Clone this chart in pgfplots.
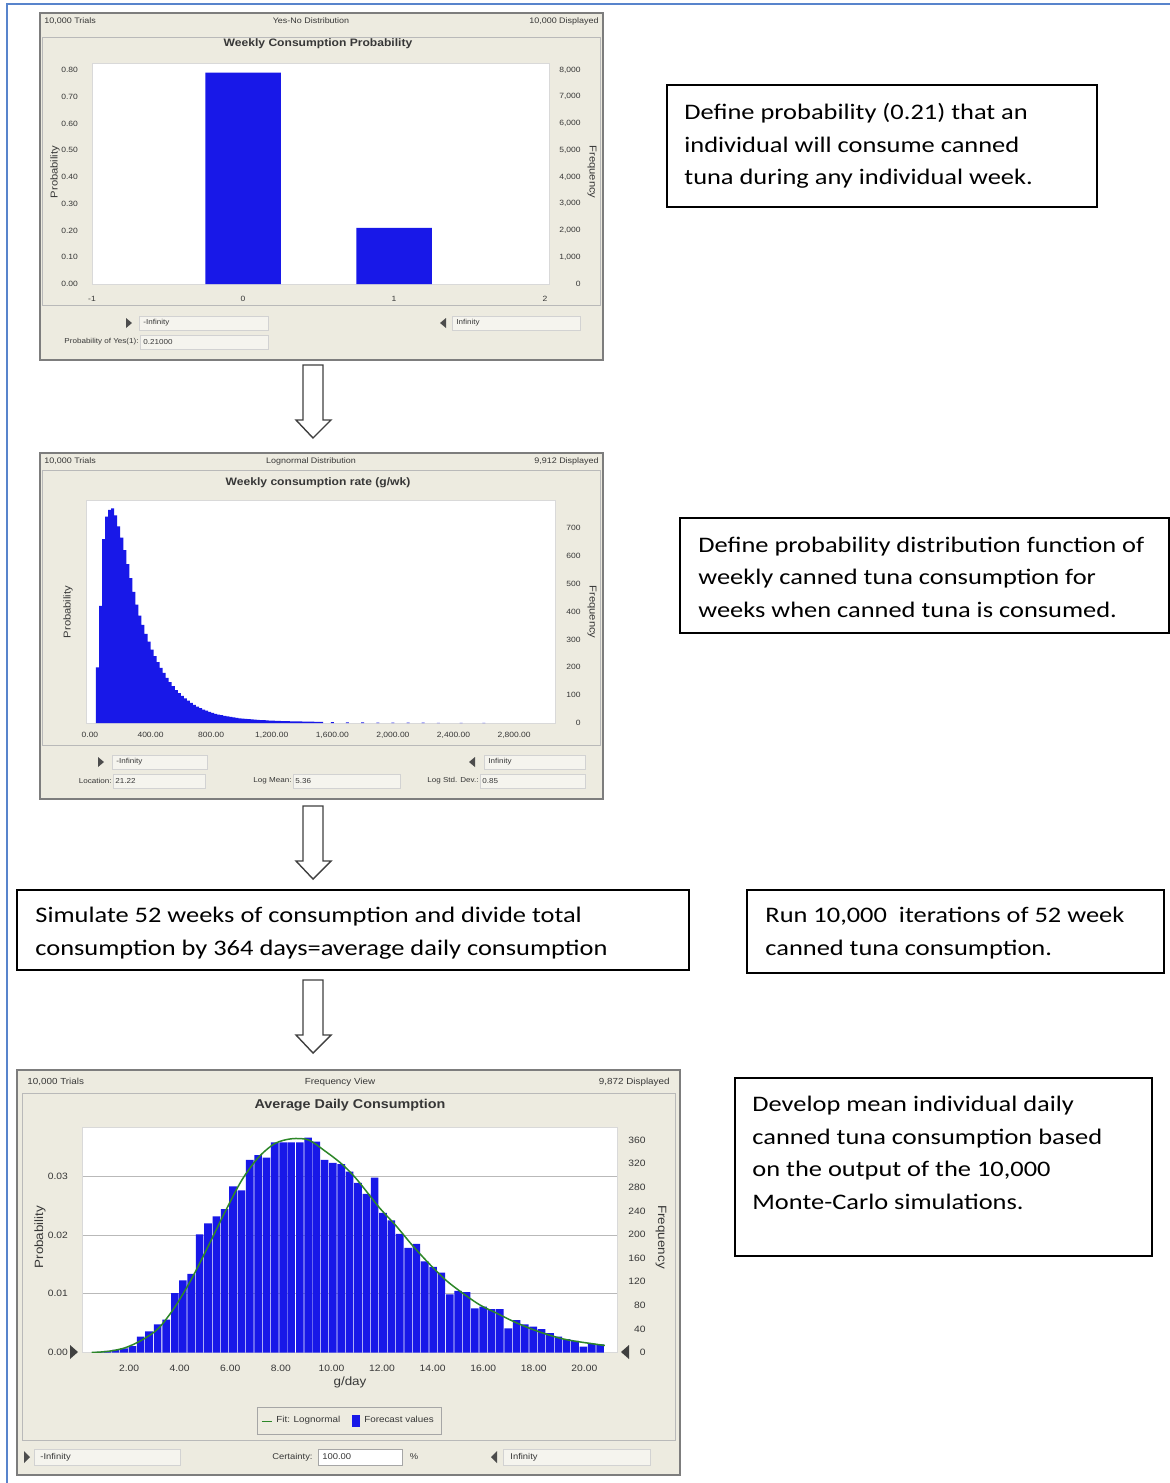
\documentclass[border=0pt]{standalone}
\usepackage{pgfplots}
\pgfplotsset{compat=1.18}
\usepackage{fontspec}
\setmainfont[FakeStretch=1.12]{Liberation Sans}
\newfontfamily\boxfont[FakeStretch=1.19]{Carlito}

\definecolor{panel}{RGB}{237,235,224}
\definecolor{field}{RGB}{245,244,238}
\definecolor{cbblue}{RGB}{24,24,232}
\definecolor{cbgreen}{RGB}{45,135,40}
\definecolor{pageblue}{RGB}{88,132,204}
\definecolor{cbtext}{RGB}{55,55,55}
\definecolor{framegray}{RGB}{125,125,125}

\newcommand\sz[1]{\fontsize{#1}{#1}\selectfont}
\newcommand\bx{\boxfont\fontsize{11.1}{13}\selectfont}

\tikzset{
  panel/.style={draw=framegray, line width=0.9pt, fill=panel},
  inner/.style={draw=gray!55, line width=0.5pt},
  fieldbox/.style={draw=gray!35, line width=0.3pt, fill=field},
  txtbox/.style={draw=black, line width=0.9pt},
  flow/.style={draw=black!75, line width=0.7pt, fill=white},
  lab/.style={text=cbtext, inner sep=0pt},
}

\pgfplotsset{
  cb/.style={
    scale only axis, anchor=south west,
    axis background/.style={fill=white},
    axis line style={draw=gray!30},
    tick style={draw=none},
    tick pos=left,
    scaled ticks=false,
    /pgf/number format/assume math mode=true,
    ticklabel style={text=cbtext},
  },
  cbright/.style={
    scale only axis, anchor=south west,
    axis x line=none, axis y line*=right,
    axis line style={draw=none},
    tick style={draw=none},
    scaled ticks=false,
    /pgf/number format/assume math mode=true,
    ticklabel style={text=cbtext},
    yticklabel style={anchor=east, inner sep=0pt},
    xmin=0, xmax=1,
  },
  two dec/.style={/pgf/number format/fixed, /pgf/number format/fixed zerofill,
    /pgf/number format/precision=2, /pgf/number format/1000 sep={,}},
  no dec/.style={/pgf/number format/fixed, /pgf/number format/precision=0,
    /pgf/number format/1000 sep={,}},
}

\begin{document}
\begin{tikzpicture}
\begin{scope}[x=0.5pt,y=-0.5pt]
\path[use as bounding box] (0,0) rectangle (1170,1483);
\fill[white] (0,0) rectangle (1170,1483);
\draw[pageblue, line width=0.8pt] (7,1483) -- (7,4) -- (1170,4);

% ---------- panel 1: yes-no distribution
\draw[panel] (40,13) rectangle (603,360);
\draw[inner] (42,37) rectangle (600,305);
\node[lab, anchor=west, font=\sz{4}] at (44,21) {10,000 Trials};
\node[lab, font=\sz{4}] at (311,21) {Yes-No Distribution};
\node[lab, anchor=east, font=\sz{4}] at (599,21) {10,000 Displayed};
\node[lab, font=\bfseries\sz{5.4}] at (318,44) {Weekly Consumption Probability};
\node[lab, rotate=90, font=\sz{5}] at (55,172) {Probability};
\node[lab, rotate=-90, font=\sz{5}] at (592,172) {Frequency};
\fill[black!70] (126,318) -- (132,323) -- (126,328) -- cycle;
\draw[fieldbox] (139,316) rectangle (268,330);
\node[lab, anchor=west, font=\sz{3.6}] at (143,323) {-Infinity};
\fill[black!70] (446,318) -- (440,323) -- (446,328) -- cycle;
\draw[fieldbox] (452,316) rectangle (580,330);
\node[lab, anchor=west, font=\sz{3.6}] at (456,323) {Infinity};
\draw[fieldbox] (140,335) rectangle (268,349);
\node[lab, anchor=east, font=\sz{3.6}] at (139,342) {Probability of Yes(1):};
\node[lab, anchor=west, font=\sz{3.6}] at (143,342) {0.21000};
\coordinate (A1) at (92,284);

% ---------- panel 2: lognormal distribution
\draw[panel] (40,453) rectangle (603,799);
\draw[inner] (42,470) rectangle (600,745);
\node[lab, anchor=west, font=\sz{4}] at (44,461) {10,000 Trials};
\node[lab, font=\sz{4}] at (311,461) {Lognormal Distribution};
\node[lab, anchor=east, font=\sz{4}] at (599,461) {9,912 Displayed};
\node[lab, font=\bfseries\sz{5.4}] at (318,483) {Weekly consumption rate (g/wk)};
\node[lab, rotate=90, font=\sz{5}] at (68,612) {Probability};
\node[lab, rotate=-90, font=\sz{5}] at (592,612) {Frequency};
\fill[black!70] (98,757) -- (104,762) -- (98,767) -- cycle;
\draw[fieldbox] (112,755) rectangle (207,769);
\node[lab, anchor=west, font=\sz{3.6}] at (116,762) {-Infinity};
\fill[black!70] (475,757) -- (469,762) -- (475,767) -- cycle;
\draw[fieldbox] (484,755) rectangle (585,769);
\node[lab, anchor=west, font=\sz{3.6}] at (488,762) {Infinity};
\draw[fieldbox] (113,774) rectangle (205,788);
\node[lab, anchor=east, font=\sz{3.6}] at (112,781) {Location:};
\node[lab, anchor=west, font=\sz{3.6}] at (115,781) {21.22};
\draw[fieldbox] (293,774) rectangle (400,788);
\node[lab, anchor=east, font=\sz{3.6}] at (292,781) {Log Mean:};
\node[lab, anchor=west, font=\sz{3.6}] at (295,781) {5.36};
\draw[fieldbox] (480,774) rectangle (585,788);
\node[lab, anchor=east, font=\sz{3.6}] at (479,781) {Log Std. Dev.:};
\node[lab, anchor=west, font=\sz{3.6}] at (482,781) {0.85};
\coordinate (A2) at (86,723);

% ---------- panel 3: forecast
\draw[panel] (17,1070) rectangle (680,1475);
\draw[inner] (22,1093) rectangle (675,1440);
\node[lab, anchor=west, font=\sz{4.4}] at (27,1082) {10,000 Trials};
\node[lab, font=\sz{4.4}] at (340,1082) {Frequency View};
\node[lab, anchor=east, font=\sz{4.4}] at (670,1082) {9,872 Displayed};
\node[lab, font=\bfseries\sz{6.4}] at (350,1105) {Average Daily Consumption};
\node[lab, rotate=90, font=\sz{6}] at (40,1237) {Probability};
\node[lab, rotate=-90, font=\sz{6}] at (661,1237) {Frequency};
\node[lab, font=\sz{6}] at (350,1382) {g/day};
\fill[black!75] (70,1345) -- (78,1352) -- (70,1359) -- cycle;
\fill[black!75] (629,1345) -- (621,1352) -- (629,1359) -- cycle;
\fill[black!70] (24,1451) -- (30,1457) -- (24,1463) -- cycle;
\draw[fieldbox] (34,1449) rectangle (180,1465);
\node[lab, anchor=west, font=\sz{4.2}] at (40,1457) {-Infinity};
\node[lab, anchor=east, font=\sz{4.2}] at (313,1457) {Certainty:};
\draw[draw=gray!70, line width=0.4pt, fill=white] (318,1449) rectangle (402,1465);
\node[lab, anchor=west, font=\sz{4.2}] at (322,1457) {100.00};
\node[lab, font=\sz{4.2}] at (414,1457) {\%};
\fill[black!70] (497,1451) -- (491,1457) -- (497,1463) -- cycle;
\draw[fieldbox] (503,1449) rectangle (650,1465);
\node[lab, anchor=west, font=\sz{4.2}] at (510,1457) {Infinity};
\coordinate (A3) at (82,1352.5);

% ---------- flow arrows
\foreach \t in {365,806,980}{
  \draw[flow] (303,\t) -- (323,\t) -- (323,\t+55) -- (331,\t+55) -- (313,\t+73)
    -- (296,\t+55) -- (303,\t+55) -- cycle;
}

% ---------- text boxes
\draw[txtbox] (667,85) rectangle (1097,207);
\node[anchor=base west, inner sep=0, font=\bx] at (684,119.3) {Define probability (0.21) that an};
\node[anchor=base west, inner sep=0, font=\bx] at (684,152) {individual will consume canned};
\node[anchor=base west, inner sep=0, font=\bx] at (684,184.5) {tuna during any individual week.};

\draw[txtbox] (680,518) rectangle (1169,633);
\node[anchor=base west, inner sep=0, font=\bx] at (698,552) {Define probability distribution function of};
\node[anchor=base west, inner sep=0, font=\bx] at (698,584.5) {weekly canned tuna consumption for};
\node[anchor=base west, inner sep=0, font=\bx] at (698,617) {weeks when canned tuna is consumed.};

\draw[txtbox] (17,890) rectangle (689,970);
\node[anchor=base west, inner sep=0, font=\bx] at (35,922.5) {Simulate 52 weeks of consumption and divide total};
\node[anchor=base west, inner sep=0, font=\bx] at (35,955) {consumption by 364 days=average daily consumption};

\draw[txtbox] (747,890) rectangle (1164,973);
\node[anchor=base west, inner sep=0, font=\bx] at (765,922.5) {Run 10,000~ iterations of 52 week};
\node[anchor=base west, inner sep=0, font=\bx] at (765,955) {canned tuna consumption.};

\draw[txtbox] (735,1078) rectangle (1152,1256);
\node[anchor=base west, inner sep=0, font=\bx] at (752,1111.5) {Develop mean individual daily};
\node[anchor=base west, inner sep=0, font=\bx] at (752,1144) {canned tuna consumption based};
\node[anchor=base west, inner sep=0, font=\bx] at (752,1176.5) {on the output of the 10,000};
\node[anchor=base west, inner sep=0, font=\bx] at (752,1209) {Monte-Carlo simulations.};
\end{scope}

% ================= chart 1
\begin{axis}[cb, at={(A1)}, width=228.5pt, height=110.5pt,
  xmin=-1, xmax=2.026, ymin=0, ymax=0.826,
  xtick={-1,0,1,2}, xticklabels={-1,0,1,2},
  ytick={0,0.1,0.2,0.3,0.4,0.5,0.6,0.7,0.8}, two dec,
  ticklabel style={font=\sz{3.8}},
  yticklabel style={xshift=-3.5pt}, xticklabel style={yshift=-2.5pt}]
\addplot[ybar, bar width=0.5, fill=cbblue, draw=none] coordinates {(0,0.79) (1,0.21)};
\end{axis}
\begin{axis}[cbright, at={(A1)}, width=228.5pt, height=110.5pt,
  ymin=0, ymax=8260, ytick={0,1000,2000,3000,4000,5000,6000,7000,8000}, no dec,
  ticklabel style={font=\sz{3.8}}, yticklabel style={xshift=16pt}]
\end{axis}

% ================= chart 2
\begin{axis}[cb, at={(A2)}, width=234.5pt, height=111.5pt,
  xmin=-26, xmax=3070, ymin=0, ymax=800,
  xtick={0,400,800,1200,1600,2000,2400,2800}, ytick=\empty, two dec,
  ticklabel style={font=\sz{3.8}}, xticklabel style={yshift=-1.2pt}]
\addplot[ybar, bar width=20, fill=cbblue, draw=none] coordinates {
 (50,200) (70,420) (90,660) (110,740) (130,765) (150,770) (170,745) (190,705)
 (210,665) (230,620) (250,570) (270,520) (290,470) (310,425) (330,385) (350,352)
 (370,320) (390,292) (410,263) (430,240) (450,218) (470,198) (490,180) (510,162)
 (530,147) (550,132) (570,118) (590,107) (610,97) (630,88) (650,80) (670,72)
 (690,65) (710,59) (730,53) (750,48) (770,44) (790,40) (810,36) (830,33)
 (850,30) (870,28) (890,26) (910,24) (930,22) (950,20) (970,18.5) (990,17)
 (1010,16) (1030,15) (1050,14) (1070,13) (1090,12) (1110,11) (1130,10.5) (1150,10)
 (1170,9.5) (1190,9) (1210,8.5) (1230,8) (1250,7.5) (1270,7) (1290,6.8) (1310,6.5)
 (1330,6.2) (1350,6) (1370,5.7) (1390,5.5) (1410,5.3) (1430,5) (1450,4.8) (1470,4.6)
 (1490,4.4) (1510,4.2) (1530,4) (1600,3) (1700,2.5) (1800,2) (1900,1.5) (2000,1.5)
 (2100,1) (2200,1) (2300,0.8) (2450,0.6) (2600,0.5)};
\end{axis}
\begin{axis}[cbright, at={(A2)}, width=234.5pt, height=111.5pt,
  ymin=0, ymax=800, ytick={0,100,200,300,400,500,600,700}, no dec,
  ticklabel style={font=\sz{3.8}}, yticklabel style={xshift=13pt}]
\end{axis}

% ================= chart 3
\begin{axis}[cb, at={(A3)}, width=267.5pt, height=112.75pt,
  xmin=0.14, xmax=21.29, ymin=0, ymax=0.0384,
  xtick={2,4,6,8,10,12,14,16,18,20}, ytick={0,0.01,0.02,0.03}, two dec,
  ymajorgrids, grid style={gray!55, line width=0.5pt},
  ticklabel style={font=\sz{4.6}},
  yticklabel style={xshift=-3.5pt}, xticklabel style={yshift=-2.5pt},
  legend style={at={(0.5,-0.2417)}, anchor=north, legend columns=2,
    draw=gray!70, fill=panel, font=\sz{4.4}, text=cbtext,
    inner xsep=2pt, inner ysep=2.5pt,
    /tikz/every even column/.append style={column sep=4pt}}]
\addplot[ybar, bar width=0.30, fill=cbblue, draw=none, forget plot] coordinates {
 (0.81,0.0001) (1.14,0.0003) (1.47,0.00045) (1.80,0.0007) (2.13,0.0011) (2.46,0.0027)
 (2.79,0.0036) (3.13,0.0048) (3.47,0.0056) (3.81,0.0101) (4.13,0.0123) (4.46,0.0134)
 (4.79,0.0201) (5.12,0.0220) (5.45,0.0232) (5.78,0.0244) (6.11,0.0283) (6.44,0.0276)
 (6.77,0.0328) (7.10,0.0336) (7.43,0.0332) (7.76,0.0358) (8.09,0.0358) (8.41,0.0358)
 (8.75,0.0358) (9.08,0.0366) (9.40,0.0359) (9.73,0.0328) (10.06,0.0323) (10.39,0.0321)
 (10.72,0.0308) (11.05,0.0289) (11.38,0.0270) (11.71,0.0298) (12.04,0.0238) (12.37,0.0225)
 (12.70,0.0202) (13.03,0.0178) (13.36,0.0185) (13.69,0.0155) (14.02,0.0146) (14.35,0.0136)
 (14.68,0.0099) (15.01,0.0105) (15.34,0.0103) (15.67,0.0075) (16.00,0.0078) (16.33,0.0074)
 (16.66,0.0074) (16.99,0.0041) (17.32,0.0055) (17.65,0.0048) (17.98,0.0044) (18.31,0.0040)
 (18.64,0.0033) (18.97,0.0027) (19.30,0.0023) (19.63,0.0020) (19.96,0.0010) (20.29,0.0015)
 (20.62,0.0014)};
\addplot[cbgreen, line width=0.75pt, smooth,
  legend image code/.code={\draw[cbgreen, line width=0.6pt] (0pt,0pt) -- (5pt,0pt);}]
  coordinates {
 (0.52,0) (1.18,0.0002) (1.84,0.0008) (2.50,0.0021) (3.16,0.0041) (3.82,0.0078)
 (4.48,0.0126) (5.14,0.0182) (5.79,0.0239) (6.45,0.0293) (7.11,0.0332) (7.77,0.0356)
 (8.43,0.0364) (9.09,0.0362) (9.75,0.0343) (10.41,0.0321) (11.0,0.0295) (11.89,0.0247)
 (12.55,0.0216) (13.21,0.0182) (13.87,0.0151) (14.53,0.0123) (15.19,0.0101) (15.87,0.0081)
 (16.53,0.0067) (17.19,0.0053) (17.85,0.0041) (18.51,0.0031) (19.17,0.0023) (19.83,0.0018)
 (20.81,0.0012)};
\addlegendentry{Fit: Lognormal}
\addlegendimage{legend image code/.code={\fill[cbblue] (0pt,-2.6pt) rectangle (3.6pt,3pt);}}
\addlegendentry{Forecast values}
\end{axis}
\begin{axis}[cbright, at={(A3)}, width=267.5pt, height=112.75pt,
  ymin=0, ymax=382, ytick={0,40,80,120,160,200,240,280,320,360}, no dec,
  ticklabel style={font=\sz{4.6}}, yticklabel style={xshift=14.5pt}]
\end{axis}
\end{tikzpicture}
\end{document}
